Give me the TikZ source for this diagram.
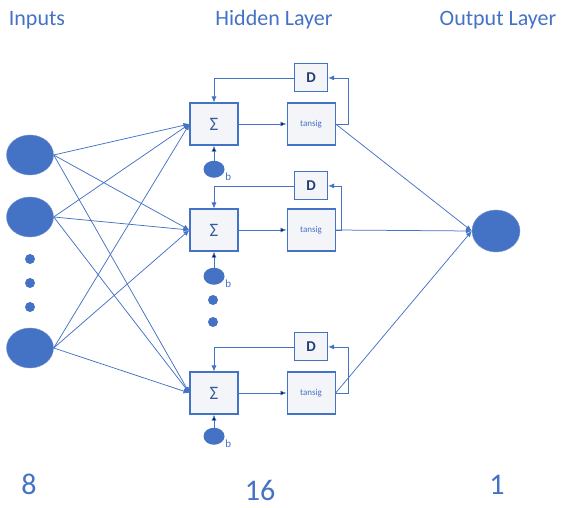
\documentclass[tikz,border=0pt]{standalone}
\usepackage{fontspec}
\setmainfont{Carlito}
\usetikzlibrary{
        arrows.meta,
        positioning,
        shapes.geometric
    }
\definecolor{nnblue}{HTML}{4472C4}
\definecolor{nnbox}{HTML}{F3F5F9}
\definecolor{nndark}{HTML}{203D7A}
\tikzset{>={Latex[length=6pt,width=5pt]}}
\tikzset{neuron/.style={ellipse,fill=nnblue,draw=nnblue!75!white,inner sep=0pt,minimum width=47pt,minimum height=40pt}}
\tikzset{smalldot/.style={circle,fill=nnblue,inner sep=0pt,minimum size=10pt}}
\tikzset{bias/.style={ellipse,fill=nnblue,inner sep=0pt,minimum width=21pt,minimum height=17pt}}
\tikzset{block/.style={draw=nnblue,line width=1.1pt,fill=nnbox,minimum width=48pt,minimum height=42pt,inner sep=0pt}}
\tikzset{sumbox/.style={block,text=nnblue!80!black,font=\fontsize{19}{19}\selectfont}}
\tikzset{actbox/.style={block,text=nnblue,font=\fontsize{9}{9}\selectfont}}
\tikzset{delaybox/.style={block,minimum width=33pt,minimum height=28pt,text=nndark,font=\fontsize{15}{15}\selectfont\bfseries}}
\tikzset{wire/.style={draw=nnblue,line width=0.75pt}}
\tikzset{blabel/.style={text=nnblue,font=\fontsize{11}{11}\selectfont,inner sep=1pt}}
\tikzset{heading/.style={text=nnblue,font=\fontsize{22}{22}\selectfont,anchor=base}}
\tikzset{count/.style={text=nnblue,font=\fontsize{30}{30}\selectfont,anchor=base}}

\begin{document}
\begin{tikzpicture}[x=1pt,y=-1pt]
    \useasboundingbox (0,0) rectangle (567,508);
    % titles
    \node[heading] (hin)  at (37,26)  {Inputs};
    \node[heading] (hhid) at (274,26) {Hidden Layer};
    \node[heading] (hout) at (498,26) {Output Layer};

    % inputs
    \node[neuron] (in0) at (30,155) {};
    \node[neuron] (in1) at (30,217) {};
    \node[smalldot] (idot0) at (30,259) {};
    \node[smalldot] (idot1) at (30,283) {};
    \node[smalldot] (idot2) at (30,307) {};
    \node[neuron] (in2) at (30,348) {};

    % hidden layer
    \node[sumbox] (s0) at (214,124) {Σ};
    \node[actbox] (t0) [right=48pt of s0] {tansig};
    \node[delaybox] (d0) [above=10pt of t0] {D};
    \node[bias,label={[blabel]-15:b}] (b0) [below=15pt of s0] {};

    \node[sumbox] (s1) at (214,230) {Σ};
    \node[actbox] (t1) [right=48pt of s1] {tansig};
    \node[delaybox] (d1) [above=8pt of t1] {D};
    \node[bias,label={[blabel]-15:b}] (b1) [below=16pt of s1] {};
    \node[smalldot] (hdot0) at (213,300) {};
    \node[smalldot] (hdot1) at (213,322) {};

    \node[sumbox] (s2) at (214,393) {Σ};
    \node[actbox] (t2) [right=48pt of s2] {tansig};
    \node[delaybox] (d2) [above=10pt of t2] {D};
    \node[bias,label={[blabel]-15:b}] (b2) [below=13pt of s2] {};

    % output
    \node[neuron,minimum width=48pt,minimum height=42pt] (out) at (496,231) {};

    % counts
    \node[count] (n0) at (29,494)  {8};
    \node[count] (n1) at (260,500) {16};
    \node[count] (n2) at (497,494) {1};

    % inputs to sums
    \foreach \i in {in0,in1,in2}
        \foreach \s in {s0,s1,s2}
            \draw[wire,->] (\i.east) -- (\s.west);

    % recurrent units
    \path[wire,->]
        (s0) edge (t0)
        (s1) edge (t1)
        (s2) edge (t2)
        (b0) edge (s0)
        (b1) edge (s1)
        (b2) edge (s2)
        ;
    \draw[wire,->] (t0.east) -- ++(13,0) |- (d0.east);
    \draw[wire,->] (t1.east) -- ++(6,0) |- (d1.east);
    \draw[wire,->] (t2.east) -- ++(13,0) |- (d2.east);
    \draw[wire,->] (d0.west) -| (s0.north);
    \draw[wire,->] (d1.west) -| (s1.north);
    \draw[wire,->] (d2.west) -| (s2.north);

    % to output
    \draw[wire,->] (t0.east) -- (out.west);
    \draw[wire,->] (t1.east) -- (out.west);
    \draw[wire,->] (t2.east) -- (out.west);
\end{tikzpicture}
\end{document}
